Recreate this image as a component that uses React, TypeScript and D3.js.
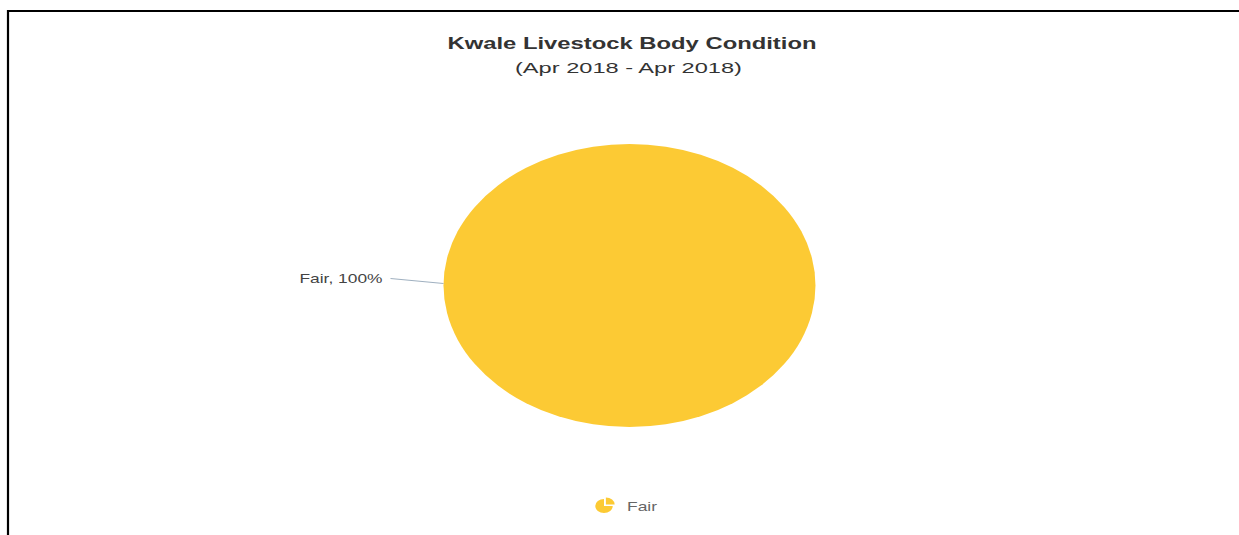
import React from "react";
import * as d3 from "d3";

const categories = ["Fair"];
const values = [100];
const colors = ["#FCCA34"];
const titleText = "Kwale Livestock Body Condition";
const subtitleText = "(Apr 2018 - Apr 2018)";

const W = 1239;
const H = 535;
const cx = 629.5;
const cy = 285.5;
const rx = 186;
const ry = 141.5;

export default function App() {
  const total = d3.sum(values);
  const pie = d3.pie<number>().sort(null).value((d) => d);
  const arcs = pie(values);
  const arc = d3.arc<d3.PieArcDatum<number>>().innerRadius(0).outerRadius(ry);
  const sx = rx / ry;

  // legend icon: pie with exploded quarter
  const iconR = 7;
  const iconArc = d3.arc<any>().innerRadius(0).outerRadius(iconR);
  const legendX = 604;
  const legendY = 506;

  const labelY = cy - 3;
  const lineStartX = cx - rx;
  const lineEndX = lineStartX - 53;

  return (
    <svg
      width={W}
      height={H}
      style={{ position: "absolute", left: 0, top: 0, background: "#fff" }}
      fontFamily="'Liberation Sans', Arial, Helvetica, sans-serif"
    >
      <rect x={0} y={0} width={W} height={H} fill="#fff" />
      <line x1={7} y1={11} x2={W} y2={11} stroke="#000" strokeWidth={2.2} />
      <line x1={8} y1={10} x2={8} y2={H} stroke="#000" strokeWidth={2.2} />

      <text
        x={632}
        y={49}
        textAnchor="middle"
        fontSize={16.5}
        fontWeight="bold"
        fill="#333"
        textLength={369}
        lengthAdjust="spacingAndGlyphs"
      >
        {titleText}
      </text>
      <text
        x={628.5}
        y={73}
        textAnchor="middle"
        fontSize={15}
        fill="#333"
        textLength={227}
        lengthAdjust="spacingAndGlyphs"
      >
        {subtitleText}
      </text>

      <g transform={`translate(${cx},${cy}) scale(${sx},1)`}>
        {arcs.map((a, i) => (
          <path key={i} d={arc(a) || ""} fill={colors[i]} />
        ))}
      </g>

      {arcs.map((a, i) => (
        <g key={"lab" + i}>
          <line
            x1={lineStartX}
            y1={cy - 2}
            x2={lineEndX}
            y2={cy - 7}
            stroke="#9fb0c0"
            strokeWidth={1}
          />
          <text
            x={lineEndX - 8}
            y={labelY}
            textAnchor="end"
            fontSize={13}
            fill="#444"
            textLength={83}
            lengthAdjust="spacingAndGlyphs"
          >
            {`${categories[i]}, ${Math.round((values[i] / total) * 100)}%`}
          </text>
        </g>
      ))}

      {categories.map((c, i) => (
        <g key={"leg" + i}>
          <g transform={`translate(${legendX},${legendY}) scale(1.25,1)`}>
            <path
              d={iconArc({ startAngle: Math.PI / 2, endAngle: 2 * Math.PI }) || ""}
              fill={colors[i]}
            />
            <path
              transform="translate(1.5,-1.5)"
              d={iconArc({ startAngle: 0, endAngle: Math.PI / 2 }) || ""}
              fill={colors[i]}
            />
          </g>
          <text
            x={627}
            y={511}
            fontSize={13}
            fill="#666"
            textLength={30}
            lengthAdjust="spacingAndGlyphs"
          >
            {c}
          </text>
        </g>
      ))}
    </svg>
  );
}
